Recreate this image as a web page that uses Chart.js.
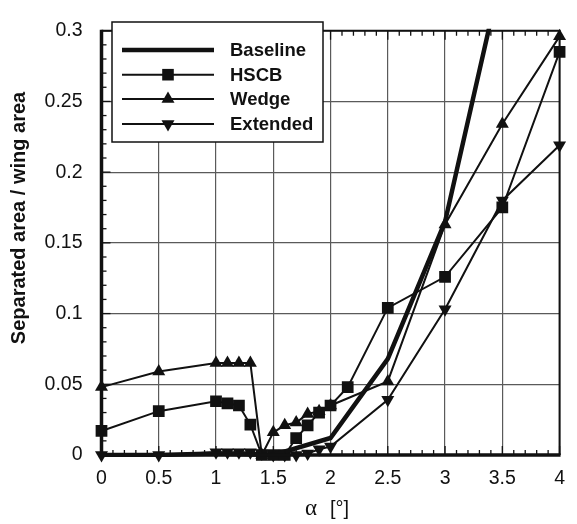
<!DOCTYPE html>
<html lang="en">
<head>
<meta charset="UTF-8">
<title>Separated area</title>
<script src="https://cdn.jsdelivr.net/npm/chart.js"></script>
<style>
    body { margin: 0; background: #fff; }
    #wrap { width: 577px; height: 524px; }
</style>
</head>
<body>
<div id="wrap"><canvas id="sepChart" width="577" height="524"></canvas></div>
<script>
// angle of attack (deg) and separated area ratio for each configuration
const baselineX = [0, 0.5, 1, 1.5, 2, 2.5, 3, 3.5];
const baselineY = [0, 0, 0.001, 0, 0.012, 0.068, 0.165, 0.343];

const hscbX = [0, 0.5, 1, 1.1, 1.2, 1.3, 1.4, 1.5, 1.6, 1.7, 1.8, 1.9, 2, 2.15, 2.5, 3, 3.5, 4];
const hscbY = [0.017, 0.031, 0.038, 0.0365, 0.035, 0.0215, 0, 0, 0, 0.012, 0.021, 0.030, 0.035, 0.048, 0.104, 0.126, 0.175, 0.285];

const wedgeX = [0, 0.5, 1, 1.1, 1.2, 1.3, 1.4, 1.5, 1.6, 1.7, 1.8, 1.9, 2, 2.5, 3, 3.5, 4];
const wedgeY = [0.048, 0.059, 0.065, 0.065, 0.065, 0.065, 0, 0.016, 0.021, 0.023, 0.029, 0.031, 0.035, 0.052, 0.163, 0.234, 0.296];

const extendedX = [0, 0.5, 1, 1.1, 1.2, 1.3, 1.4, 1.5, 1.6, 1.7, 1.8, 1.9, 2, 2.5, 3, 3.5, 4];
const extendedY = [0, 0, 0.002, 0.002, 0.002, 0.002, 0.001, 0, 0, 0, 0.001, 0.004, 0.006, 0.039, 0.103, 0.18, 0.219];

const seriesNames = ['Baseline', 'HSCB', 'Wedge', 'Extended'];
const xTickStep = 0.5;
const yTickStep = 0.05;

function pairs(xs, ys) {
    return xs.map(function(x, i) { return {x: x, y: ys[i]}; });
}

const ink = '#111';
const sans = '"Liberation Sans", Arial, sans-serif';

const datasets = [
    {label: seriesNames[0], data: pairs(baselineX, baselineY), borderColor: ink, borderWidth: 4.5,
     pointRadius: 0, clip: 2},
    {label: seriesNames[1], data: pairs(hscbX, hscbY), borderColor: ink, borderWidth: 2,
     pointStyle: 'rect', pointRadius: 8.3, pointBackgroundColor: ink, pointBorderColor: ink, pointBorderWidth: 0, clip: 10},
    {label: seriesNames[2], data: pairs(wedgeX, wedgeY), borderColor: ink, borderWidth: 2,
     pointStyle: 'triangle', pointRadius: 7.5, pointBackgroundColor: ink, pointBorderColor: ink, pointBorderWidth: 0, clip: 10},
    {label: seriesNames[3], data: pairs(extendedX, extendedY), borderColor: ink, borderWidth: 2,
     pointStyle: 'triangle', pointRotation: 180, pointRadius: 7.5, pointBackgroundColor: ink, pointBorderColor: ink, pointBorderWidth: 0, clip: 10}
];

function marker(ctx, style, x, y) {
    ctx.beginPath();
    if (style === 'rect') {
        ctx.rect(x - 5.8, y - 5.8, 11.6, 11.6);
    } else if (style === 'up') {
        ctx.moveTo(x, y - 7.5);
        ctx.lineTo(x + 6.5, y + 3.75);
        ctx.lineTo(x - 6.5, y + 3.75);
    } else if (style === 'down') {
        ctx.moveTo(x, y + 7.5);
        ctx.lineTo(x + 6.5, y - 3.75);
        ctx.lineTo(x - 6.5, y - 3.75);
    }
    ctx.closePath();
    ctx.fill();
}

// frame, inward minor ticks, boxed legend and axis titles
const decorations = {
    id: 'decorations',
    afterDraw: function(chart) {
        const ctx = chart.ctx;
        const a = chart.chartArea;
        const xs = chart.scales.x;
        const ys = chart.scales.y;
        ctx.save();
        ctx.strokeStyle = ink;
        ctx.fillStyle = ink;

        // x ticks every 0.1, top and bottom
        ctx.lineWidth = 1.3;
        for (let i = 0; i <= 40; i++) {
            const px = xs.getPixelForValue(i / 10);
            const len = i % 5 === 0 ? 9 : 5;
            ctx.beginPath();
            ctx.moveTo(px, a.bottom); ctx.lineTo(px, a.bottom - len);
            ctx.moveTo(px, a.top); ctx.lineTo(px, a.top + len);
            ctx.stroke();
        }
        // y ticks every 0.01, left side
        for (let j = 0; j <= 30; j++) {
            const py = ys.getPixelForValue(j / 100);
            const len = j % 5 === 0 ? 9 : 5;
            ctx.beginPath();
            ctx.moveTo(a.left, py); ctx.lineTo(a.left + len, py);
            ctx.stroke();
        }

        // plot frame
        ctx.lineWidth = 2;
        ctx.beginPath();
        ctx.moveTo(a.left, a.top); ctx.lineTo(a.right, a.top); ctx.lineTo(a.right, a.bottom);
        ctx.stroke();
        ctx.lineWidth = 3.5;
        ctx.beginPath();
        ctx.moveTo(a.left, a.top - 1); ctx.lineTo(a.left, a.bottom); ctx.lineTo(a.right + 1, a.bottom);
        ctx.stroke();

        // legend box
        ctx.fillStyle = '#fff';
        ctx.fillRect(112, 22, 211, 120);
        ctx.lineWidth = 1.5;
        ctx.strokeRect(112, 22, 211, 120);
        const rows = [50, 74.7, 99, 124];
        const styles = [null, 'rect', 'up', 'down'];
        ctx.font = 'bold 18.5px ' + sans;
        ctx.textBaseline = 'middle';
        ctx.textAlign = 'left';
        for (let k = 0; k < rows.length; k++) {
            ctx.fillStyle = ink;
            ctx.lineWidth = datasets[k].borderWidth;
            ctx.beginPath();
            ctx.moveTo(122, rows[k]); ctx.lineTo(214, rows[k]);
            ctx.stroke();
            if (styles[k]) marker(ctx, styles[k], 168, rows[k]);
            ctx.fillText(seriesNames[k], 230, rows[k] + 1);
        }

        // y title
        ctx.save();
        ctx.translate(19, 218);
        ctx.rotate(-Math.PI / 2);
        ctx.textAlign = 'center';
        ctx.font = 'bold 20px ' + sans;
        ctx.fillText('Separated area / wing area', 0, 0);
        ctx.restore();

        // x title: greek alpha in serif, unit in sans
        ctx.textAlign = 'left';
        ctx.textBaseline = 'alphabetic';
        ctx.font = '23px "Liberation Serif", serif';
        ctx.fillText('α', 305, 515);
        ctx.font = '20px ' + sans;
        ctx.fillText('[°]', 330, 515);
        ctx.restore();
    }
};

new Chart(document.getElementById('sepChart'), {
    type: 'line',
    data: {datasets: datasets},
    options: {
        responsive: false,
        animation: false,
        layout: {padding: {top: 11, right: 7, left: 0, bottom: 0}},
        plugins: {legend: {display: false}, tooltip: {enabled: false}},
        elements: {line: {tension: 0}},
        scales: {
            x: {
                type: 'linear', min: 0, max: 4,
                afterFit: function(s) { s.height = 69; },
                ticks: {stepSize: xTickStep, color: ink, padding: 12,
                        font: {family: sans, size: 19.5}, maxRotation: 0,
                        callback: function(v) { return String(parseFloat(v.toFixed(2))); }},
                grid: {color: '#5a5a5a', lineWidth: 1.2, drawTicks: false},
                border: {display: false}
            },
            y: {
                min: 0, max: 0.3,
                afterFit: function(s) { s.width = 101.5; },
                ticks: {stepSize: yTickStep, color: ink, padding: 19,
                        font: {family: sans, size: 19.5},
                        callback: function(v) { return String(parseFloat(v.toFixed(2))); }},
                grid: {color: '#5a5a5a', lineWidth: 1.2, drawTicks: false},
                border: {display: false}
            }
        }
    },
    plugins: [decorations]
});
</script>
</body>
</html>
